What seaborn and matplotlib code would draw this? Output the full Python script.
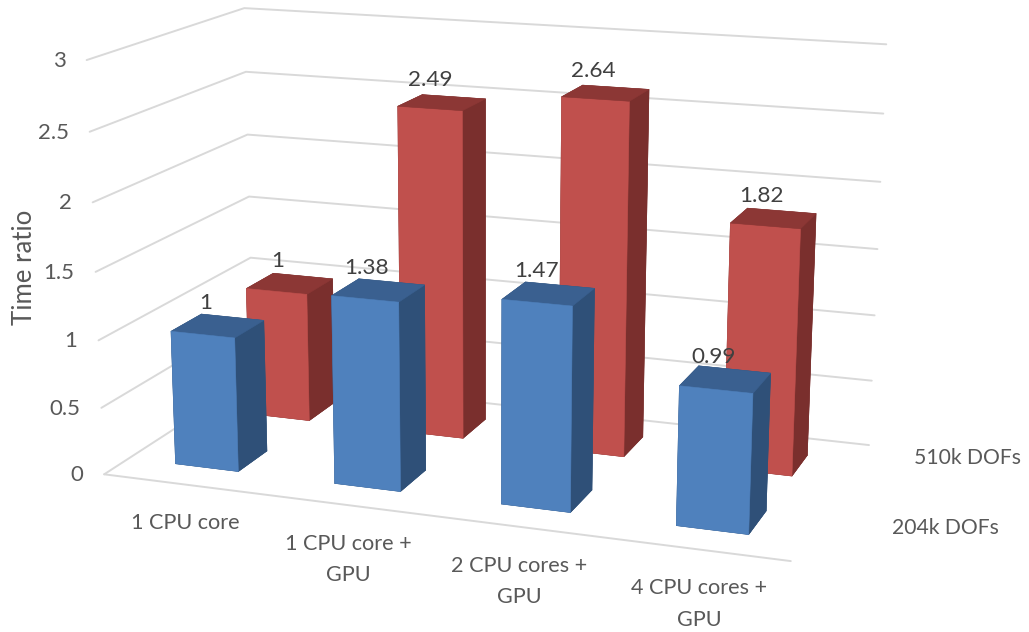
import numpy as np
import matplotlib
matplotlib.use("Agg")
import matplotlib.pyplot as plt
import seaborn as sns

# ---- data ----
categories = ["1 CPU core", "1 CPU core +\nGPU", "2 CPU cores +\nGPU", "4 CPU cores +\nGPU"]
series_names = ["204k DOFs", "510k DOFs"]
values_204k = [1, 1.38, 1.47, 0.99]
values_510k = [1, 2.49, 2.64, 1.82]
value_labels_204k = ["1", "1.38", "1.47", "0.99"]
value_labels_510k = ["1", "2.49", "2.64", "1.82"]
z_ticks = [0, 0.5, 1, 1.5, 2, 2.5, 3]
z_tick_labels = ["0", "0.5", "1", "1.5", "2", "2.5", "3"]

# ---- style ----
W, H = 1029, 632
sns.set_theme(style="white")
plt.rcParams["font.family"] = ["Lato", "DejaVu Sans"]
TICK = "#595959"
LABEL = "#404040"
GRID = "#d9d9d9"
# face colours: bottom, top, front, back, left, right
FACES_204K = ["#2f5078", "#3a6090", "#4f81bd", "#2f5078", "#2f5078", "#2f5078"]
FACES_510K = ["#7a2f2d", "#8c3735", "#c0504d", "#7a2f2d", "#7a2f2d", "#7a2f2d"]

fig = plt.figure(figsize=(W / 100, H / 100), dpi=100, facecolor="white")
ax = fig.add_axes([0, 0, 1, 1], projection="3d", computed_zorder=False)
ax.set_axis_off()
ax.apply_aspect = lambda position=None: None  # keep the whole canvas

# Camera of the original chart: world (category, series, value) -> canvas pixels
CAMERA = np.array([[153.445, 90.8873, -7.12578, 104.181],
                   [8.77822, -24.3044, -138.968, 474.31],
                   [-0.0230197, 0.0637289, -0.0147608, 1.0]])
BAR_X0, BAR_W, BAR_Y0, BAR_D = 0.299302, 0.399877, 0.30423, 0.388189


def camera_matrix():
    x0, x1 = ax.viewLim.intervalx
    y0, y1 = ax.viewLim.intervaly
    to_view = np.array([[(x1 - x0) / W, 0, x0], [0, -(y1 - y0) / H, y1], [0, 0, 1]])
    uvw = to_view @ CAMERA
    return np.array([uvw[0], uvw[1], [0, 0, 0, -1.0], uvw[2]])


ax.get_proj = camera_matrix


def label(x, y, z, text, dx=0, dy=0, **kw):
    """Place a flat text at a world position, nudged by screen pixels."""
    u, v, w = CAMERA @ np.array([x, y, z, 1.0])
    ax.text2D((u / w + dx) / W, 1 - (v / w + dy) / H, text, transform=ax.transAxes, **kw)


# gridlines on the two walls and the floor's front edge
n = len(categories)
for z in z_ticks:
    ax.plot([0, 0, n], [0, 2, 2], [z, z, z], color=GRID, lw=1.4, zorder=1)
ax.plot([0, n], [0, 0], [0, 0], color=GRID, lw=1.4, zorder=1)

# bars: back series first, nearer categories on top
for s, (vals, faces) in enumerate([(values_510k, FACES_510K), (values_204k, FACES_204K)]):
    row = 1 - s
    for i, v in enumerate(vals):
        ax.bar3d(i + BAR_X0, row + BAR_Y0, 0, BAR_W, BAR_D, v, color=faces, shade=False,
                 edgecolor=faces, linewidth=0.4, zorder=10 + 10 * s + i)

# value labels above each bar top
for row, (vals, labs) in enumerate([(values_204k, value_labels_204k), (values_510k, value_labels_510k)]):
    for i, (v, lab) in enumerate(zip(vals, labs)):
        label(i + BAR_X0 + BAR_W / 2, row + BAR_Y0 + BAR_D / 2, v, lab, dx=-12, dy=-22.5,
              ha="center", va="center", fontsize=16.2, color=LABEL, zorder=50)

# value axis tick labels
for z, lab in zip(z_ticks, z_tick_labels):
    label(0, 0, z, lab, dx=-21, dy=1, ha="right", va="center", fontsize=16, color=TICK, zorder=50)

# category labels
for i, lab in enumerate(categories):
    label(i + 0.5, 0, 0, lab, dx=2, dy=29, ha="center", va="top", multialignment="center",
          linespacing=1.72, fontsize=15.6, color=TICK, zorder=50)

# series names and axis title
ax.text2D(892 / W, 1 - 528 / H, series_names[0], transform=ax.transAxes, ha="left", va="center",
          fontsize=15.2, color=TICK)
ax.text2D(914 / W, 1 - 458 / H, series_names[1], transform=ax.transAxes, ha="left", va="center",
          fontsize=15.2, color=TICK)
ax.text2D(25 / W, 1 - 267 / H, "Time ratio", transform=ax.transAxes, rotation=90,
          ha="center", va="center", fontsize=18.5, color=TICK)

fig.savefig("out.png", dpi=100, facecolor="white")
